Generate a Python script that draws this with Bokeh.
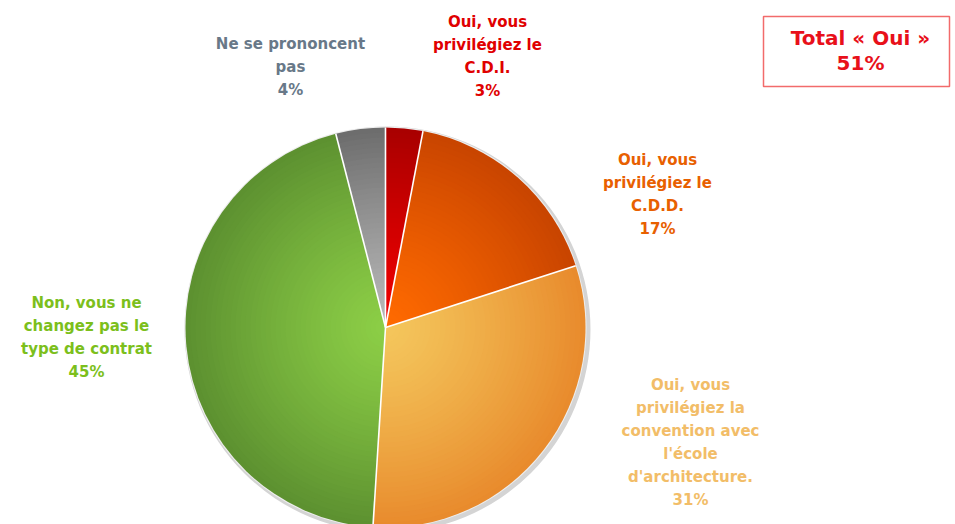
import math
from bokeh.plotting import figure
from bokeh.models import Range1d, ColumnDataSource
from bokeh.core.properties import value
from bokeh.embed import file_html
from bokeh.resources import INLINE

# ---- data ----
categories = [
    "Oui, vous\nprivilégiez le\nC.D.I.",
    "Oui, vous\nprivilégiez le\nC.D.D.",
    "Oui, vous\nprivilégiez la\nconvention avec\nl'école\nd'architecture.",
    "Non, vous ne\nchangez pas le\ntype de contrat",
    "Ne se prononcent\npas",
]
percents = [3, 17, 31, 45, 4]
total_label = ["Total « Oui »", "51%"]

# ---- styles / layout ----
inner_colors = ["#f00000", "#ff6a00", "#f4c65c", "#8cce46", "#b8b8b8"]
outer_colors = ["#a80000", "#c84400", "#e88a2c", "#5c9030", "#6c6c6c"]
text_colors = ["#e00000", "#e86000", "#f2bd68", "#7cbf1c", "#687888"]
label_xy = [(487, 56), (657, 194), (690, 442), (86, 337), (290, 66)]  # picture coords of block centers
CX, CY, R = 385, 327, 200
W, H = 955, 524
LINE = 23

def Y(ys):
    return H - ys

p = figure(width=W, height=H, output_backend="svg", toolbar_location=None,
           x_range=Range1d(0, W), y_range=Range1d(0, H),
           min_border=0, border_fill_color="white", background_fill_color="white")
p.axis.visible = False
p.grid.visible = False
p.outline_line_color = None

# shadow
p.circle(x=[CX + 2], y=[Y(CY) - 2], radius=R + 3, fill_color="#d4d4d4", line_color=None)
p.circle(x=[CX], y=[Y(CY)], radius=R + 1, fill_color="#eeeeee", line_color=None)

# angles (clockwise from top)
total = sum(percents)
starts, ends = [], []
acc = 0.0
for v in percents:
    a0 = math.pi / 2 - 2 * math.pi * acc / total
    acc += v
    a1 = math.pi / 2 - 2 * math.pi * acc / total
    starts.append(a0)
    ends.append(a1)

def hex2rgb(h):
    h = h.lstrip("#")
    return [int(h[i:i + 2], 16) for i in (0, 2, 4)]

def mix(c1, c2, t):
    a, b = hex2rgb(c1), hex2rgb(c2)
    return "#%02x%02x%02x" % tuple(int(round(a[i] + (b[i] - a[i]) * t)) for i in range(3))

# radial gradient: stacked wedges from outer (dark) to inner (light)
N = 40
xs, ys, rr, sa, ea, cols = [], [], [], [], [], []
for k in range(N):
    r = R * (N - k) / N
    t = (N - k - 0.5) / N
    for i in range(len(percents)):
        xs.append(CX); ys.append(Y(CY))
        rr.append(r)
        sa.append(starts[i]); ea.append(ends[i])
        cols.append(mix(inner_colors[i], outer_colors[i], t ** 1.2))
src = ColumnDataSource(dict(x=xs, y=ys, r=rr, sa=sa, ea=ea, c=cols))
p.wedge(x="x", y="y", radius="r", start_angle="sa", end_angle="ea", direction="clock",
        fill_color="c", line_color=None, source=src)

# white separators
sx0 = [CX] * len(starts)
sy0 = [Y(CY)] * len(starts)
sx1 = [CX + R * math.cos(a) for a in starts]
sy1 = [Y(CY) + R * math.sin(a) for a in starts]
p.segment(x0=sx0, y0=sy0, x1=sx1, y1=sy1, line_color="white", line_width=1.6)

# labels
tx, ty, tt, tc = [], [], [], []
for i, cat in enumerate(categories):
    lines = cat.split("\n") + ["%d%%" % percents[i]]
    cx, cy = label_xy[i]
    n = len(lines)
    for j, ln in enumerate(lines):
        tx.append(cx)
        ty.append(Y(cy + (j - (n - 1) / 2) * LINE))
        tt.append(ln)
        tc.append(text_colors[i])
p.text(x=tx, y=ty, text=tt, text_color=tc, text_font=value("DejaVu Sans"),
       text_font_style="bold", text_font_size="15px", text_align="center",
       text_baseline="middle")

# total box
p.quad(left=[763], right=[949], top=[Y(16)], bottom=[Y(86)], fill_color="white",
       line_color="#f26b6b", line_width=1.5)
p.text(x=[860, 860], y=[Y(37), Y(62)], text=total_label, text_color="#e8101a",
       text_font=value("DejaVu Sans"), text_font_style="bold", text_font_size="20px",
       text_align="center", text_baseline="middle")

open("out.html", "w").write(file_html(p, INLINE))
